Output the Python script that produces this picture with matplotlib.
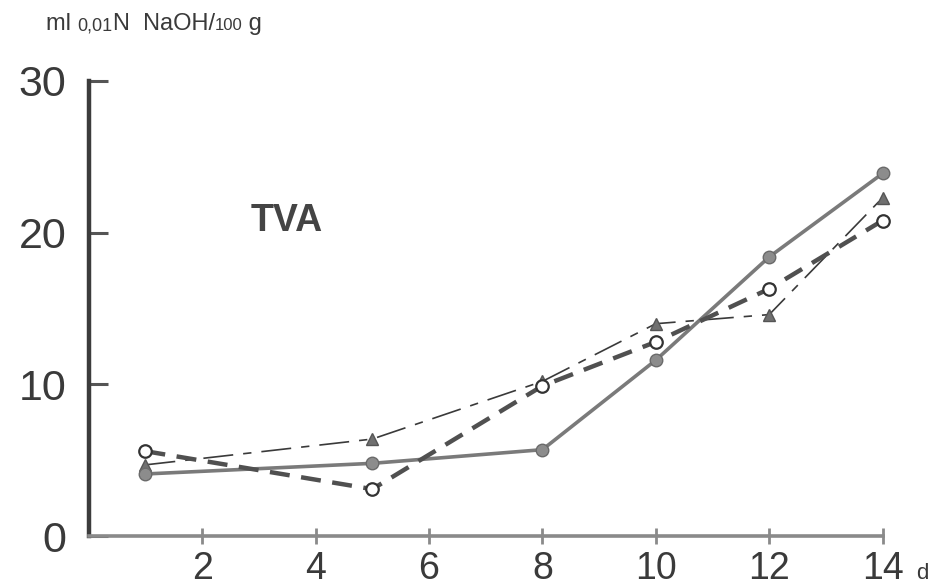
import matplotlib
matplotlib.use('Agg')
import matplotlib.pyplot as plt

# ===== data =====
days = [1, 5, 8, 10, 12, 14]
tva_filled = [4.1, 4.8, 5.7, 11.6, 18.4, 23.9]    # solid line, filled circles
tva_open = [5.6, 3.1, 9.9, 12.8, 16.3, 20.8]      # heavy dashed, open circles
tva_tri = [4.7, 6.4, 10.2, 14.0, 14.6, 22.3]      # thin dash-dot, triangles

x_ticks = [2, 4, 6, 8, 10, 12, 14]
y_ticks = [0, 10, 20, 30]

fig = plt.figure(figsize=(9.34, 5.86), dpi=100)
ax = fig.add_axes([0.095, 0.085, 0.850, 0.777])

ax.plot(days, tva_filled, color='#7a7a7a', lw=2.6, marker='o', ms=9,
        mfc='#8c8c8c', mec='#6a6a6a', clip_on=False, zorder=3)
ax.plot(days, tva_open, color='#505050', lw=3.2, ls=(0, (4.5, 2.6)),
        marker='o', ms=9, mfc='white', mec='#333333', mew=1.6,
        clip_on=False, zorder=4)
ax.plot(days, tva_tri, color='#3a3a3a', lw=1.2, ls=(0, (18, 6, 5, 6)),
        marker='^', ms=8, mfc='#707070', mec='#555555',
        clip_on=False, zorder=2)

ax.set_xlim(0, 14)
ax.set_ylim(0, 30)

for s in ['top', 'right']:
    ax.spines[s].set_visible(False)
ax.spines['left'].set_color('#3c3c3c')
ax.spines['left'].set_linewidth(3.2)
ax.spines['bottom'].set_color('#8a8a8a')
ax.spines['bottom'].set_linewidth(2.6)

ax.set_xticks(x_ticks)
ax.set_xticklabels([str(v) for v in x_ticks],
                   fontfamily=['Liberation Sans Narrow', 'Liberation Sans'],
                   fontsize=27, color='#3a3a3a')
ax.tick_params(axis='x', direction='inout', length=12, width=2,
               color='#8a8a8a', pad=5)

ax.set_yticks(y_ticks)
ax.set_yticklabels([str(v) for v in y_ticks],
                   fontfamily='Liberation Sans', fontsize=31, color='#3a3a3a')
ax.tick_params(axis='y', direction='in', length=14, width=2.2,
               color='#555555', pad=16)

ax.text(3.5, 20.8, 'TVA', fontsize=27, fontweight='bold', color='#444444',
        fontfamily='Liberation Sans', ha='center', va='center')

fig.text(0.987, 0.022, 'd', fontsize=16, color='#3a3a3a',
         fontfamily='Liberation Sans', ha='center', va='center')

# y-axis unit label, mixed font sizes
parts = [('ml ', 17), ('0,01', 13), ('N  NaOH/', 17), ('100', 12), (' g', 17)]
texts = []
for txt, sz in parts:
    t = fig.text(0, 0, txt, fontsize=sz, color='#3a3a3a',
                 fontfamily='Liberation Sans', va='baseline')
    texts.append(t)

# put the pieces one after another
fig.canvas.draw()
r = fig.canvas.get_renderer()
x0 = 0.049
for t in texts:
    t.set_position((x0, 0.948))
    bb = t.get_window_extent(renderer=r)
    x0 += bb.width / fig.bbox.width

plt.savefig('out.png', dpi=100)
plt.close()
